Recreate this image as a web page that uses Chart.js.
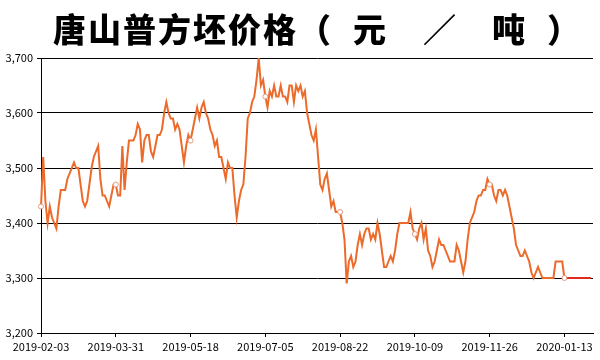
<!DOCTYPE html>
<html>
<head>
<meta charset="utf-8">
<script src="https://cdn.jsdelivr.net/npm/chart.js@4/dist/chart.umd.min.js"></script>
<style>
  html, body { margin: 0; padding: 0; background: #fff; }
  #chart { display: block; }
</style>
</head>
<body>
<canvas id="chart" width="600" height="360"></canvas>
<script>
// 唐山普方坯价格 (元/吨), one value per trading day
const prices = [
  3430, 3520, 3440, 3400, 3430, 3410, 3400, 3390, 3430, 3460,
  3460, 3460, 3480, 3490, 3500, 3510, 3500, 3500, 3470, 3440,
  3430, 3440, 3470, 3500, 3520, 3530, 3540, 3480, 3450, 3450,
  3440, 3430, 3450, 3470, 3470, 3450, 3450, 3540, 3460, 3510,
  3550, 3550, 3550, 3560, 3580, 3570, 3510, 3550, 3560, 3560,
  3530, 3520, 3540, 3560, 3560, 3570, 3600, 3620, 3600, 3590,
  3590, 3570, 3580, 3570, 3540, 3510, 3540, 3560, 3550, 3570,
  3590, 3610, 3590, 3610, 3620, 3600, 3590, 3570, 3560, 3540,
  3550, 3520, 3520, 3500, 3480, 3510, 3500, 3500, 3450, 3410,
  3440, 3460, 3470, 3520, 3590, 3600, 3620, 3630, 3660, 3700,
  3650, 3660, 3630, 3610, 3640, 3630, 3650, 3630, 3630, 3650,
  3630, 3630, 3620, 3650, 3650, 3620, 3650, 3640, 3650, 3630,
  3640, 3600, 3580, 3560, 3550, 3570, 3520, 3470, 3460, 3480,
  3490, 3460, 3430, 3440, 3420, 3420, 3420, 3400, 3370, 3290,
  3330, 3340, 3320, 3330, 3360, 3380, 3360, 3380, 3390, 3390,
  3370, 3380, 3370, 3400, 3380, 3350, 3320, 3320, 3330, 3340,
  3330, 3350, 3380, 3400, 3400, 3400, 3400, 3400, 3420, 3390,
  3380, 3370, 3390, 3400, 3370, 3390, 3350, 3340, 3320, 3330,
  3350, 3370, 3360, 3360, 3350, 3340, 3330, 3330, 3330, 3360,
  3350, 3330, 3310, 3330, 3370, 3400, 3410, 3420, 3440, 3450,
  3450, 3460, 3460, 3480, 3470, 3470, 3450, 3440, 3460, 3460,
  3450, 3460, 3450, 3430, 3410, 3390, 3360, 3350, 3340, 3340,
  3350, 3340, 3330, 3310, 3300, 3310, 3320, 3310, 3300, 3300,
  3300, 3300, 3300, 3300, 3330, 3330, 3330, 3330, 3300, 3300,
  3300, 3300, 3300, 3300, 3300, 3300, 3300, 3300, 3300, 3300,
  3300
];
// date shown under every 34th trading day
const tickLabels = ["2019-02-03", "2019-03-31", "2019-05-18", "2019-07-05",
  "2019-08-22", "2019-10-09", "2019-11-26", "2020-01-13"];
const tickStep = 34;
const lastDay = 251;
// most recent stretch is drawn red
const latestFrom = 238;

const yMin = 3200;
const yMax = 3700;
const yStep = 100;

const points = prices.map((p, i) => ({ x: i, y: p }));

// big title, drawn char by char to get the wide spacing of the original
const titlePlugin = {
  id: "bigTitle",
  afterDraw: (chart) => {
    const ctx = chart.ctx;
    ctx.save();
    ctx.fillStyle = "#000";
    ctx.font = '900 33px "Noto Sans CJK SC"';
    ctx.textBaseline = "middle";
    ctx.textAlign = "left";
    ctx.letterSpacing = "2px";
    ctx.fillText("唐山普方坯价格（", 53, 29);
    ctx.letterSpacing = "0px";
    ctx.fillText("元", 353, 29);
    ctx.fillText("／", 423, 29);
    ctx.fillText("吨", 492, 29);
    ctx.fillText("）", 547, 29);
    ctx.restore();
  },
};

const tickFont = { family: '"Noto Sans CJK SC", sans-serif', size: 11 };

new Chart(document.getElementById("chart"), {
  type: "line",
  data: {
    datasets: [
      {
        data: points,
        borderColor: "#ec6a2a",
        borderWidth: 2,
        tension: 0,
        clip: 4,
        segment: {
          borderColor: (c) => (c.p0.parsed.x >= latestFrom ? "#e02a1e" : undefined),
        },
        pointRadius: (c) => (c.raw && c.raw.x % tickStep === 0 ? 2.5 : 0),
        pointBackgroundColor: "#fff",
        pointBorderColor: "#e39a80",
        pointBorderWidth: 1,
      },
    ],
  },
  options: {
    responsive: false,
    animation: false,
    devicePixelRatio: 1,
    layout: { padding: { top: 58, right: 7, left: 0, bottom: 0 } },
    plugins: {
      legend: { display: false },
      tooltip: { enabled: false },
      title: { display: false },
    },
    scales: {
      x: {
        type: "linear",
        min: 0,
        max: lastDay,
        afterFit: (s) => { s.height = 27; },
        border: { display: true, color: "#000", width: 1 },
        grid: { drawOnChartArea: false, drawTicks: true, tickLength: 4, color: "#000" },
        ticks: {
          stepSize: tickStep,
          includeBounds: false,
          autoSkip: false,
          maxRotation: 0,
          padding: 3,
          color: "#000",
          font: tickFont,
          callback: (v) => tickLabels[v / tickStep] ?? "",
        },
      },
      y: {
        min: yMin,
        max: yMax,
        afterFit: (s) => { s.width = 41; },
        border: { display: true, color: "#000", width: 1 },
        grid: { color: "#000", lineWidth: 1, drawTicks: true, tickLength: 4 },
        ticks: {
          stepSize: yStep,
          padding: 4,
          color: "#000",
          font: tickFont,
          callback: (v) => v.toLocaleString("en-US"),
        },
      },
    },
  },
  plugins: [titlePlugin],
});
</script>
</body>
</html>
